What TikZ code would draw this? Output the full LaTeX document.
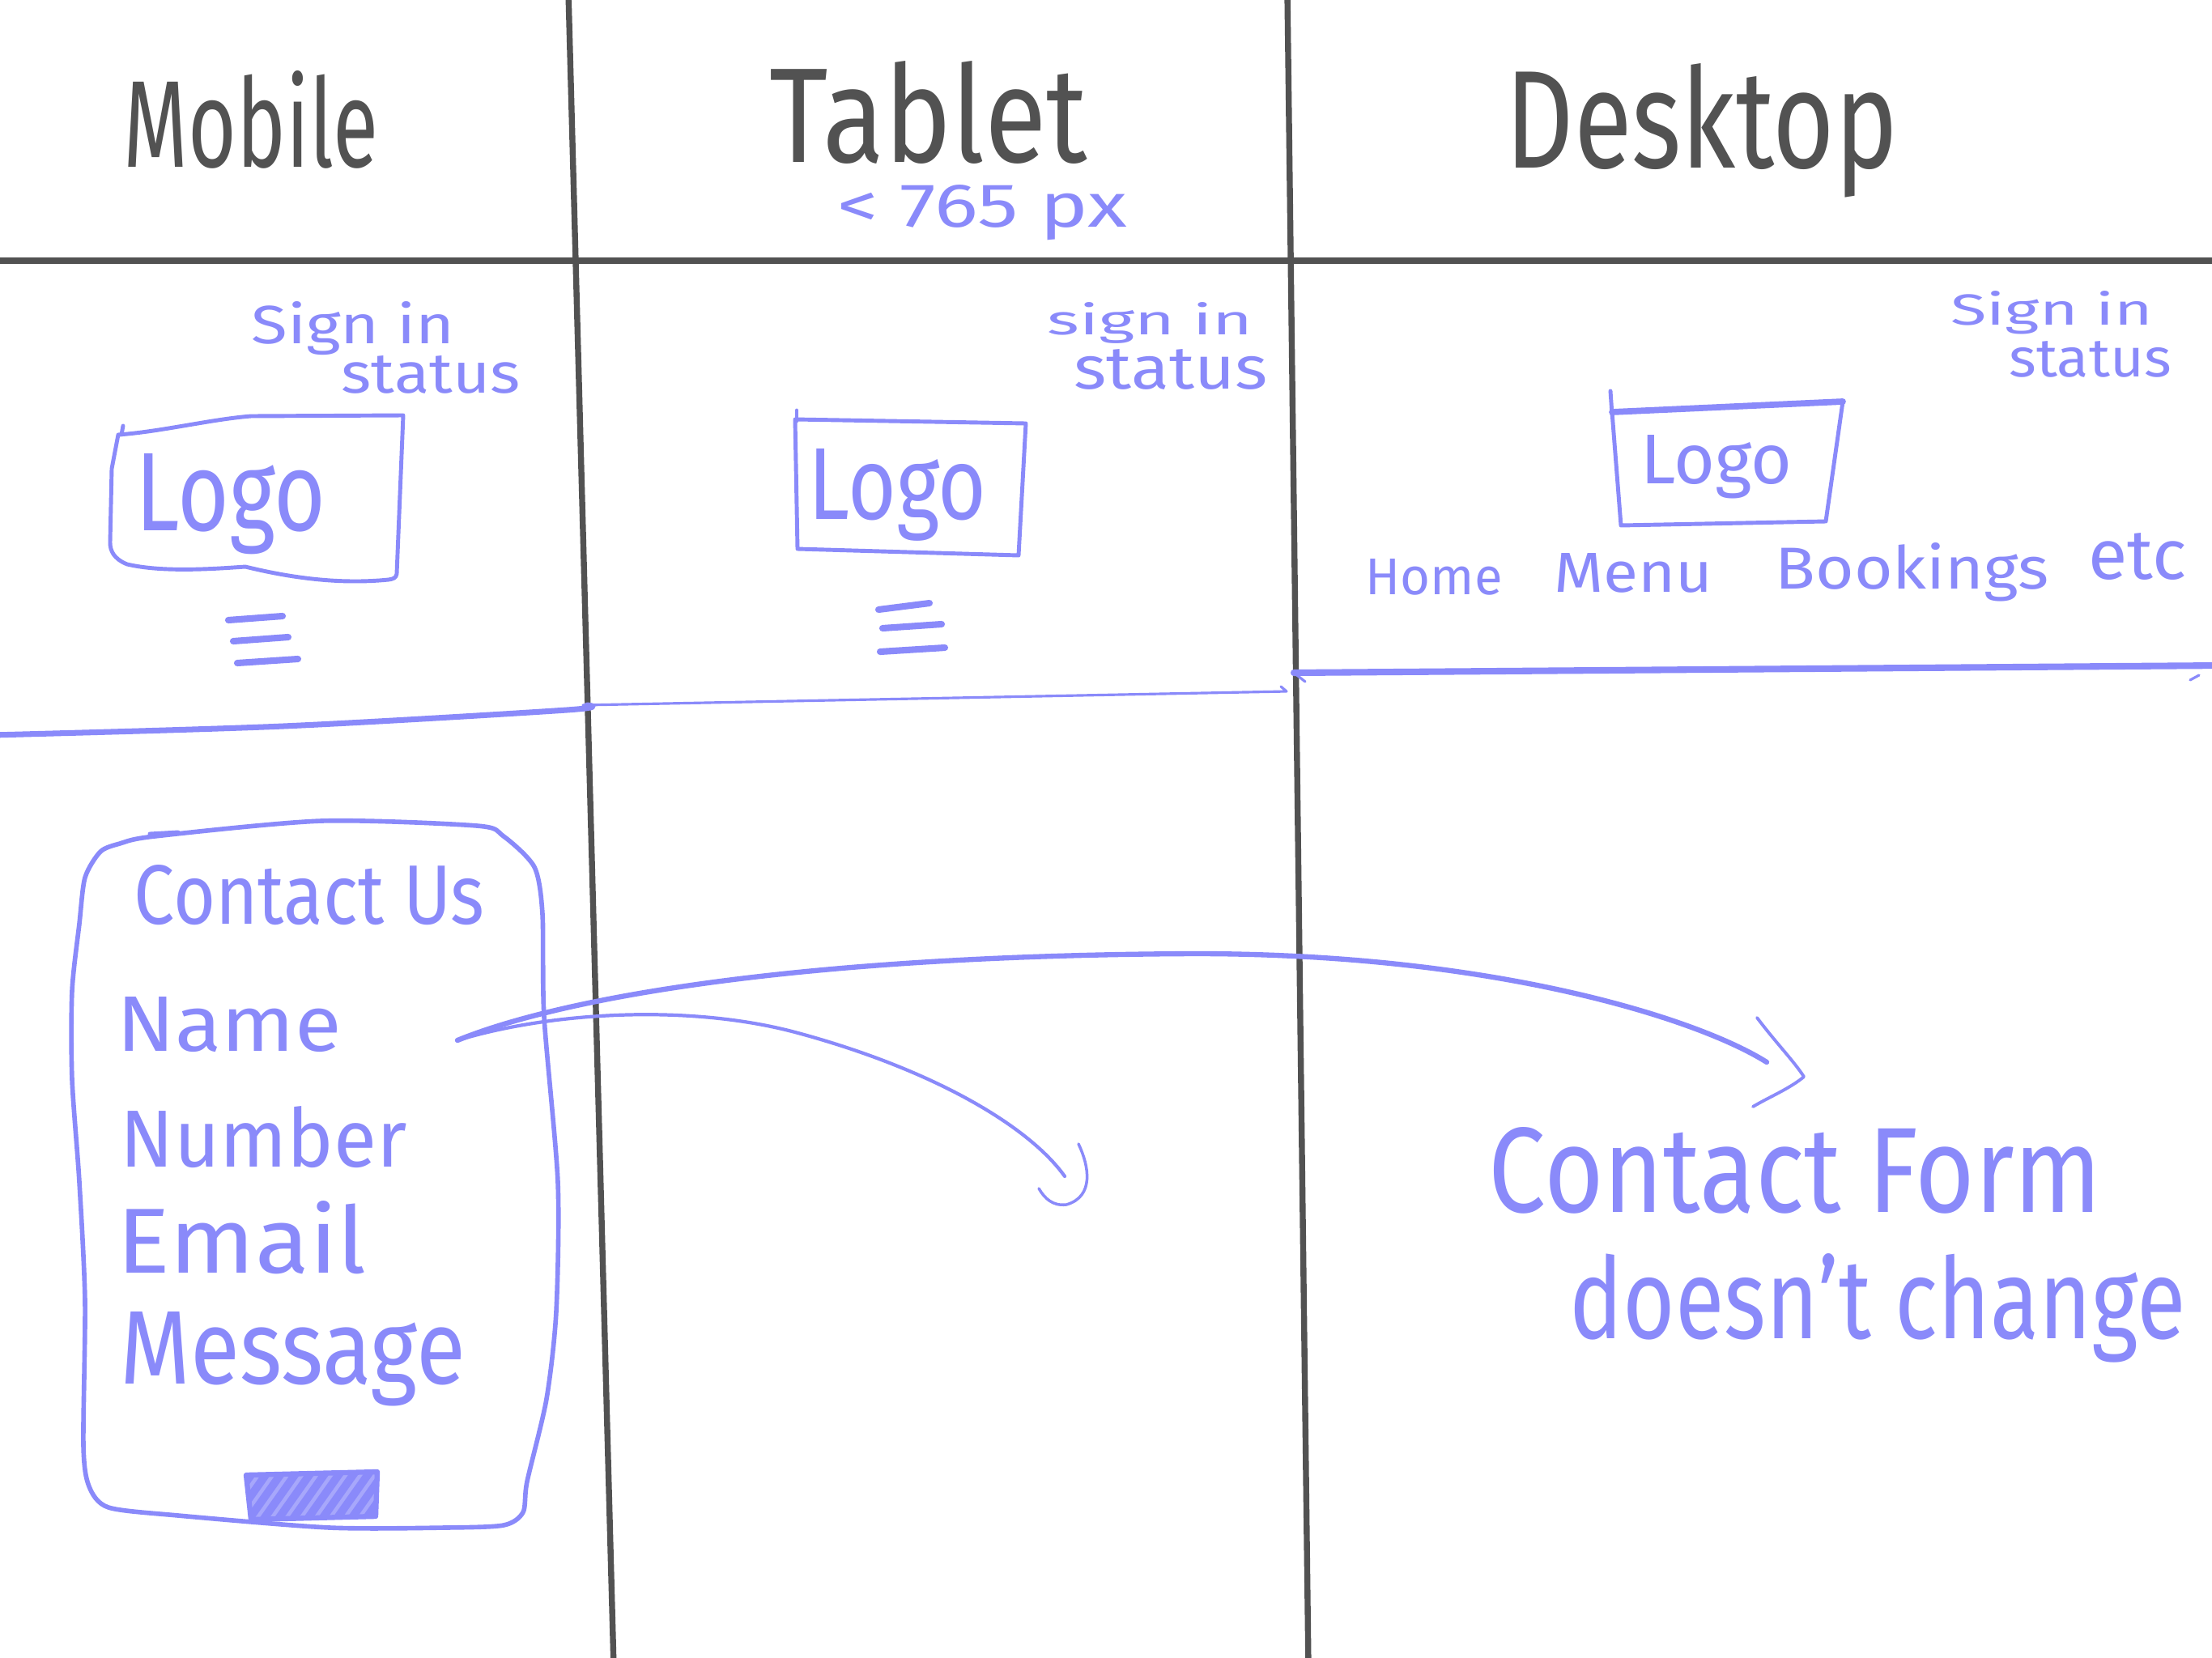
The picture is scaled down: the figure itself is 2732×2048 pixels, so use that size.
\documentclass[tikz,border=0pt]{standalone}
\usepackage{fontspec}
\usepackage{graphicx}
\setmainfont{Fira Sans}
% one drawing unit = 0.01cm
\newlength\pxu
\setlength\pxu{0.01cm}
\newcommand\fitword[3]{\resizebox{#1\pxu}{#2\pxu}{#3}}
\definecolor{penblue}{RGB}{138,138,250}
\definecolor{inkgray}{RGB}{82,82,82}

\begin{document}
\begin{tikzpicture}[x=0.01cm,y=-0.01cm,
  grid/.style={draw=inkgray, line width=2.1pt, line cap=round},
  pen/.style={draw=penblue, line width=1.4pt, line cap=round, line join=round},
  finepen/.style={pen, line width=0.9pt},
  boldpen/.style={pen, line width=2pt},
  burger/.style={pen, line width=2.3pt},
  heading/.style={inner sep=0pt, anchor=base west, text=inkgray},
  note/.style={inner sep=0pt, anchor=base west, text=penblue},
]
\fill[white] (0,0) rectangle (2732,2048);
\useasboundingbox (0,0) rectangle (2732,2048);
\begin{scope}
\clip (0,0) rectangle (2732,2048);

% ---- column grid ----
\draw[grid] (702,-10) -- (758,2060);
\draw[grid] (1590,-10) -- (1616,2060);
\draw[grid] (-10,322) -- (2745,322);

% ---- column headings ----
\node[heading] (mobileHead)  at (152,206)  {\fitword{315}{119}{Mobile}};
\node[heading] (tabletHead)  at (950,200)  {\fitword{392}{125}{Tablet}};
\node[heading] (desktopHead) at (1859,207) {\fitword{484}{129}{Desktop}};
\node[note]    (breakpoint)  at (1034,280) {\fitword{357}{52}{< 765 px}};

% ---- header area separators ----
\draw[boldpen] plot[smooth, tension=0.5] coordinates {(-10,908) (350,897) (700,877) (725,871)};
\draw[finepen] (720,871) -- (1589,854) -- (1582,848);
\draw[boldpen, line width=2.3pt] (1598,831) -- (2745,822);
\draw[finepen] (1598,831) -- (1612,842);
\draw[finepen] (2705,840) -- (2716,834);

% ---- mobile header ----
\node[note] (mSign)   at (310,424) {\fitword{251}{52}{Sign in}};
\node[note] (mStatus) at (421,485) {\fitword{221}{46}{status}};
\draw[pen] (152,526) -- (150,537)
  (146,537) .. controls (200,533) and (260,518) .. (310,514) -- (498,513)
  -- (490,709) .. controls (489,714) and (486,715) .. (480,716)
  .. controls (420,722) and (360,714) .. (303,700)
  .. controls (260,703) and (200,707) .. (157,697)
  .. controls (140,690) and (136,680) .. (136,670)
  -- (138,579) -- (146,537);
\node[note] (mLogo) at (167,655) {\fitword{235}{95}{Logo}};
\draw[burger] (282,766) -- (349,761);
\draw[burger] (288,792) -- (356,787);
\draw[burger] (293,819) -- (368,814);

% ---- tablet header ----
\node[note] (tSign)   at (1293,413) {\fitword{254}{40}{sign in}};
\node[note] (tStatus) at (1326,480) {\fitword{239}{49}{status}};
\draw[pen] (984,507) -- (984,520);
\draw[pen] (982,518) -- (1267,523) -- (1258,686) -- (985,678) -- cycle;
\node[note] (tLogo) at (998,641) {\fitword{220}{87}{Logo}};
\draw[burger] (1085,753) -- (1148,745);
\draw[burger] (1090,776) -- (1163,771);
\draw[burger] (1087,805) -- (1167,800);

% ---- desktop header ----
\node[note] (dSign)   at (2409,401) {\fitword{249}{42}{Sign in}};
\node[note] (dStatus) at (2481,465) {\fitword{200}{44}{status}};
\draw[pen] (1989,483) -- (1991,512);
\draw[pen, line width=2.2pt] (1991,509) -- (2276,496);
\draw[pen] (2276,496) -- (2255,644) -- (2002,649) -- (1991,509);
\node[note] (dLogo) at (2026,597) {\fitword{187}{60}{Logo}};
\node[note] (dHome) at (1686,734) {\fitword{169}{44}{Home}};
\node[note] (dMenu) at (1919,731) {\fitword{196}{48}{Menu}};
\node[note] (dBook) at (2192,727) {\fitword{338}{57}{Bookings}};
\node[note] (dEtc)  at (2579,715) {\fitword{121}{57}{etc}};

% ---- mobile contact form ----
\draw[pen, line width=1.6pt] plot[smooth cycle, tension=0.45] coordinates {
  (191,1033) (397,1014) (589,1020) (622,1033) (660,1071) (670,1129)
  (672,1256) (689,1460) (687,1620) (675,1728) (651,1830) (646,1868)
  (622,1884) (550,1887) (407,1887) (220,1872) (134,1862) (110,1836)
  (103,1785) (105,1607) (98,1460) (89,1333) (89,1224) (98,1141)
  (105,1084) (124,1052) (148,1042)};
\draw[pen] (185,1030) -- (220,1028);
\node[note] (cTitle)   at (165,1141) {\fitword{433}{73}{Contact Us}};
\node[note] (fName)    at (144,1298) {\fitword{277}{67}{Name}};
\node[note] (fNumber)  at (148,1441) {\fitword{354}{75}{Number}};
\node[note] (fEmail)   at (144,1572) {\fitword{308}{89}{Email}};
\node[note] (fMessage) at (148,1709) {\fitword{426}{89}{Message}};

% submit button, scribbled in
\path[fill=penblue!75] (304,1822) -- (466,1818) -- (464,1873) -- (310,1877) -- cycle;
\begin{scope}
  \clip (304,1822) -- (466,1818) -- (464,1873) -- (310,1877) -- cycle;
  \foreach \k in {0,...,11}
    \draw[pen, line width=2.8pt] (262+\k*18,1890) -- (322+\k*18,1805);
\end{scope}
\draw[pen, line width=1.8pt] (304,1822) -- (466,1818) -- (464,1873) -- (310,1877) -- cycle;

% ---- desktop note ----
\node[note] (cfLine1) at (1838,1497) {\fitword{757}{105}{Contact Form}};
\node[note] (cfLine2) at (1938,1653) {\fitword{761}{105}{doesn't change}};

% ---- arrows from the form fields ----
\coordinate (fieldsOut) at (565,1285);
\coordinate (tabletEnd) at (1315,1453);
\coordinate (desktopEnd) at (2182,1312);
\draw[pen, line width=1.2pt] (fieldsOut)
  .. controls (680,1250) and (850,1240) .. (982,1275)
  .. controls (1150,1320) and (1270,1390) .. (tabletEnd);
\draw[pen, line width=1pt] (1332,1413) .. controls (1345,1440) and (1352,1478) .. (1317,1488)
  .. controls (1300,1490) and (1290,1480) .. (1283,1468);
\draw[pen, line width=1.8pt] (fieldsOut)
  .. controls (700,1230) and (1000,1180) .. (1476,1178)
  .. controls (1850,1178) and (2100,1260) .. (desktopEnd);
\draw[pen, line width=1.1pt] (2170,1257) .. controls (2195,1290) and (2215,1310) .. (2228,1330)
  .. controls (2210,1345) and (2185,1355) .. (2165,1367);
\end{scope}
\end{tikzpicture}
\end{document}
